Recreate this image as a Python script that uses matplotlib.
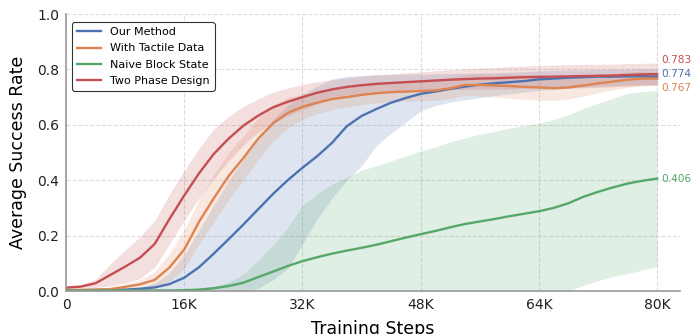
import numpy as np
import matplotlib
matplotlib.use("Agg")
import matplotlib.pyplot as plt

steps = np.arange(0, 80001, 2000)

names = ["Our Method", "With Tactile Data", "Naive Block State", "Two Phase Design"]
colors = ["#4C72B0", "#DD8452", "#55A868", "#C44E52"]

ours_mean = [0.003, 0.003, 0.004, 0.004, 0.005, 0.008, 0.013, 0.025, 0.048, 0.086,
             0.135, 0.187, 0.24, 0.295, 0.35, 0.40, 0.445, 0.487, 0.535, 0.595,
             0.632, 0.657, 0.68, 0.697, 0.712, 0.72, 0.73, 0.738, 0.745, 0.75,
             0.754, 0.758, 0.764, 0.767, 0.77, 0.772, 0.774, 0.774, 0.775, 0.775, 0.774]
ours_lo = [0.0, 0.0, 0.0, 0.0, 0.0, 0.0, 0.0, 0.0, 0.0, 0.0,
           0.0, 0.0, 0.0, 0.01, 0.04, 0.08, 0.17, 0.26, 0.335, 0.40,
           0.452, 0.525, 0.57, 0.61, 0.65, 0.67, 0.682, 0.69, 0.698, 0.706,
           0.712, 0.718, 0.724, 0.728, 0.732, 0.736, 0.74, 0.742, 0.744, 0.745, 0.745]
ours_hi = [0.005, 0.005, 0.005, 0.005, 0.006, 0.014, 0.028, 0.065, 0.13, 0.22,
           0.31, 0.40, 0.475, 0.55, 0.62, 0.67, 0.71, 0.74, 0.765, 0.775,
           0.778, 0.78, 0.782, 0.783, 0.783, 0.784, 0.785, 0.786, 0.787, 0.788,
           0.79, 0.792, 0.794, 0.796, 0.797, 0.798, 0.80, 0.80, 0.801, 0.802, 0.803]

tactile_mean = [0.003, 0.004, 0.005, 0.007, 0.015, 0.024, 0.04, 0.085, 0.15, 0.25,
                0.335, 0.415, 0.48, 0.55, 0.605, 0.643, 0.665, 0.68, 0.693, 0.70,
                0.708, 0.714, 0.718, 0.72, 0.722, 0.724, 0.732, 0.744, 0.744, 0.742,
                0.74, 0.737, 0.735, 0.732, 0.735, 0.742, 0.75, 0.756, 0.763, 0.767, 0.767]
tactile_std = [0.002, 0.003, 0.004, 0.006, 0.01, 0.015, 0.03, 0.05, 0.07, 0.08,
               0.085, 0.085, 0.08, 0.075, 0.065, 0.055, 0.045, 0.04, 0.038, 0.036,
               0.035, 0.035, 0.035, 0.035, 0.035, 0.036, 0.037, 0.038, 0.04, 0.042,
               0.044, 0.045, 0.046, 0.044, 0.042, 0.038, 0.034, 0.03, 0.028, 0.026, 0.025]

naive_mean = [0.002, 0.002, 0.002, 0.002, 0.002, 0.002, 0.002, 0.002, 0.003, 0.005,
              0.01, 0.018, 0.03, 0.05, 0.07, 0.09, 0.108, 0.122, 0.135, 0.146,
              0.156, 0.167, 0.18, 0.193, 0.205, 0.217, 0.23, 0.242, 0.251, 0.26,
              0.27, 0.279, 0.288, 0.30, 0.317, 0.34, 0.358, 0.374, 0.388, 0.398, 0.406]
naive_std = [0.002, 0.002, 0.002, 0.002, 0.002, 0.002, 0.002, 0.002, 0.002, 0.004,
             0.008, 0.014, 0.03, 0.06, 0.095, 0.14, 0.20, 0.23, 0.25, 0.265,
             0.28, 0.285, 0.29, 0.295, 0.30, 0.304, 0.308, 0.311, 0.315, 0.316,
             0.318, 0.318, 0.318, 0.319, 0.32, 0.32, 0.32, 0.322, 0.325, 0.322, 0.318]

twophase_mean = [0.012, 0.016, 0.028, 0.058, 0.088, 0.12, 0.17, 0.26, 0.345, 0.425,
                 0.495, 0.55, 0.597, 0.633, 0.663, 0.683, 0.70, 0.716, 0.728, 0.737,
                 0.743, 0.748, 0.751, 0.754, 0.757, 0.76, 0.763, 0.765, 0.767, 0.768,
                 0.77, 0.772, 0.773, 0.774, 0.775, 0.776, 0.777, 0.778, 0.78, 0.782, 0.783]
twophase_std = [0.003, 0.006, 0.015, 0.04, 0.06, 0.075, 0.085, 0.09, 0.09, 0.09,
                0.09, 0.08, 0.07, 0.06, 0.055, 0.05, 0.045, 0.04, 0.035, 0.033,
                0.033, 0.033, 0.033, 0.034, 0.034, 0.035, 0.036, 0.037, 0.038, 0.039,
                0.04, 0.04, 0.041, 0.042, 0.042, 0.042, 0.042, 0.041, 0.041, 0.04, 0.04]

xticks = [0, 16000, 32000, 48000, 64000, 80000]
xticklabels = ["0", "16K", "32K", "48K", "64K", "80K"]
yticks = [0.0, 0.2, 0.4, 0.6, 0.8, 1.0]

means = [np.array(ours_mean), np.array(tactile_mean), np.array(naive_mean), np.array(twophase_mean)]
los = [np.array(ours_lo),
       np.clip(np.array(tactile_mean) - np.array(tactile_std), 0, 1),
       np.clip(np.array(naive_mean) - np.array(naive_std), 0, 1),
       np.clip(np.array(twophase_mean) - np.array(twophase_std), 0, 1)]
his = [np.array(ours_hi),
       np.clip(np.array(tactile_mean) + np.array(tactile_std), 0, 1),
       np.clip(np.array(naive_mean) + np.array(naive_std), 0, 1),
       np.clip(np.array(twophase_mean) + np.array(twophase_std), 0, 1)]

plt.rcParams['font.family'] = ['DejaVu Sans']
fig = plt.figure(figsize=(6.95, 3.34), dpi=100)
ax = fig.add_axes([0.095, 0.1287, 0.8835, 0.8293])

for m, lo, hi, c, n in zip(means, los, his, colors, names):
    ax.fill_between(steps, lo, hi, color=c, alpha=0.18, linewidth=0)
    ax.plot(steps, m, color=c, lw=1.7, label=n)

# end labels, spread apart so they do not overlap
finals = [m[-1] for m in means]
order = list(np.argsort(finals))
ys = [finals[i] for i in order]
adj = list(ys)
gap = 0.05
for k in range(1, len(adj)):
    if adj[k] - adj[k - 1] < gap:
        adj[k] = adj[k - 1] + gap
close = [k for k in range(len(ys)) if ys[k] > 0.6]
if close:
    shift = np.mean([ys[k] for k in close]) - np.mean([adj[k] for k in close])
    for k in close:
        adj[k] += shift + 0.01
for k, i in enumerate(order):
    ax.text(steps[-1] + 600, adj[k], f"{finals[i]:.3f}", color=colors[i],
            fontsize=7.6, va='center', ha='left')

ax.set_xlim(0, 83100)
ax.set_ylim(0, 1.0)
ax.set_xticks(xticks)
ax.set_xticklabels(xticklabels)
ax.set_yticks(yticks)
ax.tick_params(axis='both', length=0, labelsize=10, pad=5, colors='#222222')
ax.grid(True, linestyle='--', color='#dddddd', linewidth=0.8)
ax.set_axisbelow(True)
for s in ['top', 'right']:
    ax.spines[s].set_visible(False)
for s in ['left', 'bottom']:
    ax.spines[s].set_color('#999999')
    ax.spines[s].set_linewidth(1.2)

ax.set_xlabel("Training Steps", fontsize=12.5, labelpad=5.5)
ax.set_ylabel("Average Success Rate", fontsize=12.5, labelpad=7)

leg = ax.legend(loc='upper left', fontsize=8, frameon=True, fancybox=True,
                edgecolor='#333333', framealpha=1.0, borderpad=0.45,
                handlelength=2.2, handletextpad=0.8, labelspacing=0.55,
                bbox_to_anchor=(0.0, 0.99))
leg.get_frame().set_linewidth(0.8)

fig.savefig("out.png", dpi=100)
